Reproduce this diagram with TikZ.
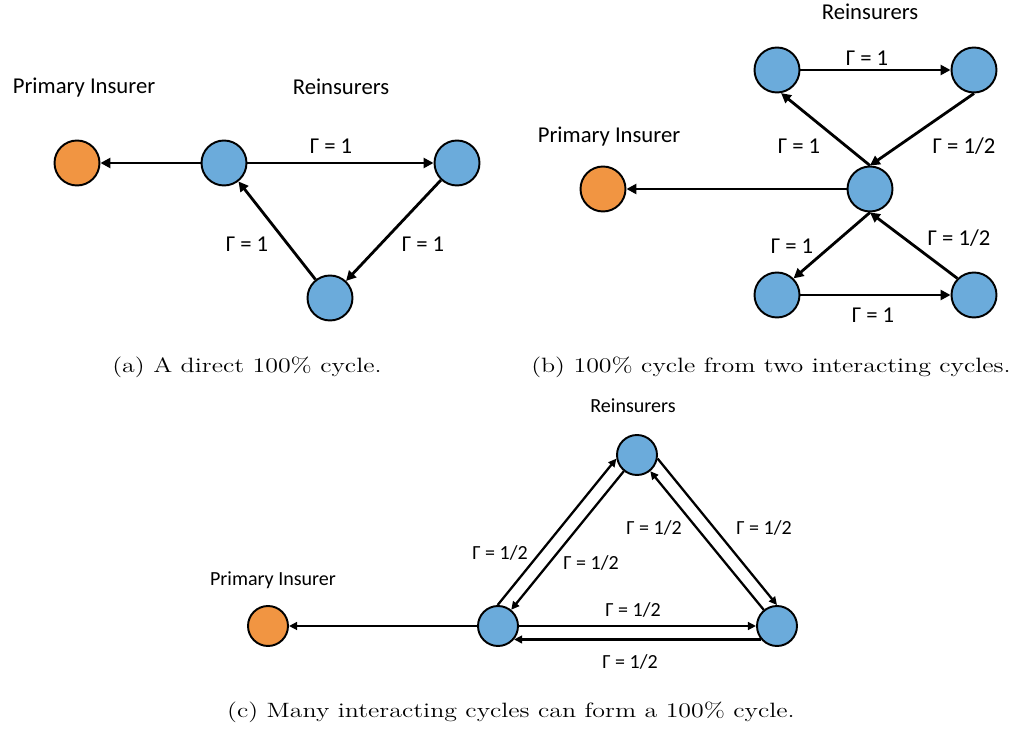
\documentclass[tikz,border=0pt]{standalone}
\usepackage{fontspec}
\usepackage{graphicx}
\usepackage{tikz}
\usetikzlibrary{arrows.meta}
\newfontfamily\labelfont{Carlito}
\definecolor{ins_orange}{RGB}{241, 149, 66}
\definecolor{re_blue}{RGB}{107, 171, 219}
\newcommand{\captext}[1]{\scalebox{1.25}[1]{#1}}
\tikzstyle{pn}=[circle,fill=ins_orange,draw=black,line width=1.1pt,inner sep=0pt,minimum size=0.9cm]
\tikzstyle{rn}=[circle,fill=re_blue,draw=black,line width=1.1pt,inner sep=0pt,minimum size=0.9cm]
\tikzstyle{lbl}=[font=\labelfont\fontsize{12.9}{14}\selectfont,inner sep=0pt]
\tikzstyle{slbl}=[font=\labelfont\fontsize{11.4}{13}\selectfont,inner sep=0pt]
\tikzstyle{captxt}=[font=\fontsize{11.8}{14}\selectfont,inner sep=0pt]
\tikzstyle{arr}=[-{Triangle[length=5.6pt,width=5.6pt]},line width=1.6pt]
\tikzstyle{sarr}=[-{Triangle[length=4.6pt,width=4.4pt]},line width=1.3pt]

\begin{document}
\begin{tikzpicture}[x=0.02cm,y=-0.02cm]
    \useasboundingbox (0, 0) rectangle (1029, 729);
    % (a)
    \node [style=lbl] (pa_t) at (84, 88) {Primary Insurer};
    \node [style=lbl] (ra_t) at (341, 87) {Reinsurers};
    \node [style=pn] (pa) at (77, 163) {};
    \node [style=rn] (ra1) at (224, 163) {};
    \node [style=rn] (ra2) at (457, 163) {};
    \node [style=rn] (ra3) at (330, 298) {};
    \draw [style=arr] (ra1) to (pa);
    \draw [style=arr] (ra1) to (ra2);
    \draw [style=arr] (ra2) to (ra3);
    \draw [style=arr] (ra3) to (ra1);
    \node [style=lbl] at (331, 146) {Γ = 1};
    \node [style=lbl] at (247, 244) {Γ = 1};
    \node [style=lbl] at (423, 244) {Γ = 1};
    \node [style=captxt] (ca) at (247, 367) {\captext{(a) A direct 100\% cycle.}};
    % (b)
    \node [style=lbl] (rb_t) at (870, 12) {Reinsurers};
    \node [style=lbl] (pb_t) at (609, 137) {Primary Insurer};
    \node [style=pn] (pb) at (603, 189) {};
    \node [style=rn] (rb1) at (777, 70) {};
    \node [style=rn] (rb2) at (974, 70) {};
    \node [style=rn] (rb3) at (870, 189) {};
    \node [style=rn] (rb4) at (777, 295) {};
    \node [style=rn] (rb5) at (974, 295) {};
    \draw [style=arr] (rb1) to (rb2);
    \draw [style=arr] (rb2.south) to (rb3.north);
    \draw [style=arr] (rb3.north) to (rb1.280);
    \draw [style=arr] (rb3) to (pb);
    \draw [style=arr] (rb3.south) to (rb4.45);
    \draw [style=arr] (rb4) to (rb5);
    \draw [style=arr] (rb5.135) to (rb3.south);
    \node [style=lbl] at (867, 58) {Γ = 1};
    \node [style=lbl] at (799, 146) {Γ = 1};
    \node [style=lbl] at (964, 146) {Γ = 1/2};
    \node [style=lbl] at (792, 246) {Γ = 1};
    \node [style=lbl] at (959, 238) {Γ = 1/2};
    \node [style=lbl] at (873, 315) {Γ = 1};
    \node [style=captxt] (cb) at (771, 367) {\captext{(b) 100\% cycle from two interacting cycles.}};
    % (c)
    \node [style=slbl] (rc_t) at (633, 406) {Reinsurers};
    \node [style=slbl] (pc_t) at (273, 580) {Primary Insurer};
    \node [style=pn,minimum size=0.8cm] (pc) at (268, 626) {};
    \node [style=rn,minimum size=0.8cm] (rc1) at (637, 455) {};
    \node [style=rn,minimum size=0.8cm] (rc2) at (498, 626) {};
    \node [style=rn,minimum size=0.8cm] (rc3) at (777, 626) {};
    \draw [style=sarr] (rc2) to (pc);
    \draw [style=sarr] (rc2.91) to (rc1.190);
    \draw [style=sarr] (rc1) to (rc2);
    \draw [style=sarr] (rc1.350) to (rc3.90);
    \draw [style=sarr] (rc3) to (rc1);
    \draw [style=sarr] (rc2) to (rc3);
    \draw [style=sarr] (rc3.220) to (rc2.320);
    \node [style=slbl] at (500, 553) {Γ = 1/2};
    \node [style=slbl] at (591, 563) {Γ = 1/2};
    \node [style=slbl] at (654, 528) {Γ = 1/2};
    \node [style=slbl] at (764, 528) {Γ = 1/2};
    \node [style=slbl] at (633, 610) {Γ = 1/2};
    \node [style=slbl] at (630, 662) {Γ = 1/2};
    \node [style=captxt] (cc) at (511, 712) {\captext{(c) Many interacting cycles can form a 100\% cycle.}};
\end{tikzpicture}
\end{document}
